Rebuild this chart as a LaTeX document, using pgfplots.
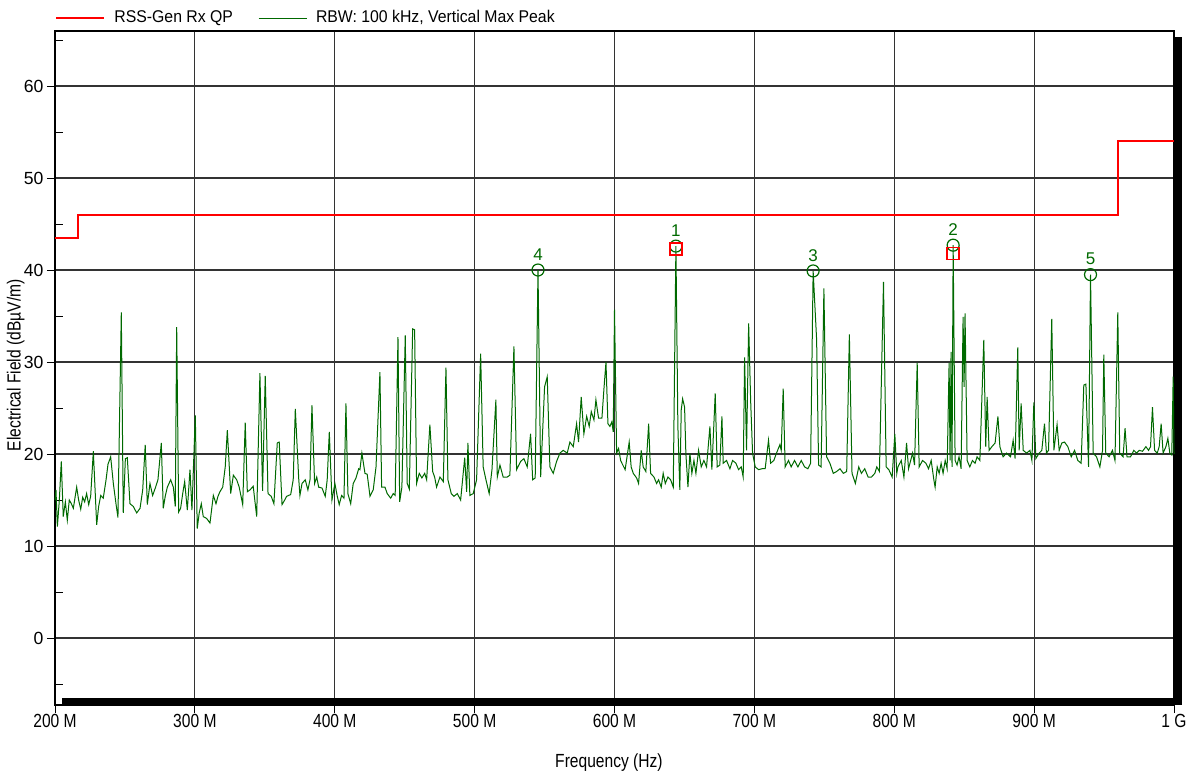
\documentclass[border=0pt]{standalone}
\usepackage{pgfplots}
\pgfplotsset{compat=1.18}
\usepackage{fontspec}
\setmainfont{Liberation Sans}
\newfontfamily\narrowfont[FakeStretch=0.82]{Liberation Sans}
\newfontfamily\legendfont[FakeStretch=0.93]{Liberation Sans}
\definecolor{trace}{RGB}{0,105,0}
\definecolor{limit}{RGB}{255,0,0}

\begin{document}
\begin{tikzpicture}
\begin{axis}[
  scale only axis, width=559.5pt, height=337pt,
  xmin=200, xmax=1000, ymin=-7.28, ymax=65.98,
  clip=false,
  xtick={200,300,...,1000},
  xticklabels={200 M,300 M,400 M,500 M,600 M,700 M,800 M,900 M,1 G},
  ytick={0,10,...,60},
  extra y ticks={-5,5,...,65},
  extra y tick labels={},
  extra y tick style={grid=none, tick align=inside, major tick length=3.8pt},
  xtick pos=bottom, ytick pos=left, tick align=outside, major tick length=4pt,
  tick style={black, line width=0.5pt},
  grid=major, major grid style={black!80, line width=0.6pt},
  axis line style={black, line width=0.6pt},
  /pgf/number format/assume math mode=true,
  yticklabel style={font=\fontsize{8.8}{10}\selectfont, inner xsep=1.6pt},
  xticklabel style={font=\narrowfont\fontsize{9.5}{11}\selectfont, inner ysep=0.5pt},
  xlabel={Frequency (Hz)}, ylabel={Electrical Field (dBµV/m)},
  label style={font=\narrowfont\fontsize{9.5}{11}\selectfont},
  xlabel style={at={(axis description cs:0.495,-0.086)}, anchor=center},
  ylabel style={at={(axis description cs:-0.035,0.504)}, anchor=center},
  legend columns=2,
  legend image code/.code={\draw[#1] (0pt,0pt) -- (24pt,0pt); \path (26.5pt,0pt);},
  legend style={at={(axis description cs:0,1.019)}, anchor=west, draw=none, fill=none,
    inner sep=0pt, font=\legendfont\fontsize{8.5}{10}\selectfont,
    /tikz/every even column/.append style={column sep=10.5pt}},
]

% limit line
\addplot[limit, line width=1pt]
  coordinates {(200,43.5) (216.4,43.5) (216.4,46) (960,46) (960,54) (1000,54)};
\addlegendentry{RSS-Gen Rx QP}

% measured trace
\addplot[trace, line width=0.5pt]
  coordinates {
(200,15.0)(200.7,16.1)(201.7,12.1)(203.1,15.0)(204.5,19.2)(205.9,13.2)(207.4,14.8)(208.8,12.8)
(210.2,15.0)(211.7,14.6)(213.1,14.1)(215.5,16.4)(216.9,15.0)(218.4,14.0)(219.8,15.3)(221.2,14.8)
(222.6,15.7)(224.1,14.5)(225.5,15.4)(227.4,20.3)(229.8,12.3)(231.2,14.3)(232.7,15.5)(234.5,15.2)
(236.5,17.2)(237.9,18.9)(239.8,19.7)(241.7,16.8)(243.6,14.6)(245.0,13.1)(247.4,35.4)(248.8,13.6)
(250.3,19.5)(251.7,19.6)(253.6,14.6)(256.0,14.3)(258.4,13.6)(260.8,14.1)(262.7,16.1)(264.5,21.0)
(266.0,14.5)(267.9,16.8)(269.8,15.5)(271.7,16.3)(273.6,17.2)(276.0,21.2)(277.4,14.1)(278.8,15.4)
(280.3,16.4)(282.7,17.2)(284.6,16.4)(286.0,14.3)(287.0,33.8)(288.4,13.7)(289.8,14.1)(291.3,15.7)
(292.7,17.0)(294.6,13.9)(296.5,18.3)(297.9,13.9)(300.3,24.2)(301.7,11.9)(303.1,13.6)(304.6,14.6)
(306.0,13.2)(308.4,13.0)(310.8,12.5)(313.2,15.5)(315.1,14.6)(316.5,15.4)(317.9,15.9)(319.9,16.4)
(321.7,18.6)(323.2,22.6)(325.6,15.7)(327.5,17.7)(329.9,17.2)(331.7,16.4)(334.2,14.5)(336.0,23.4)
(337.5,15.9)(339.4,16.1)(341.7,16.5)(344.2,13.2)(346.5,28.8)(348.4,16.0)(350.3,28.5)(352.3,15.7)
(354.6,15.4)(356.5,14.6)(358.9,21.2)(360.3,21.3)(362.3,14.5)(364.2,15.0)(365.6,15.4)(368.5,15.6)
(370.3,17.2)(371.8,24.9)(374.2,17.4)(375.1,15.5)(376.6,16.8)(378.9,17.2)(380.8,16.1)(382.3,17.2)
(383.7,25.3)(385.6,16.8)(387.1,17.5)(388.5,16.4)(390.9,16.3)(393.2,15.4)(394.6,17.2)(396.1,22.4)
(398.0,15.0)(400.1,16.8)(401.8,15.4)(403.2,14.5)(404.9,15.5)(406.6,15.2)(408.0,25.5)(409.4,15.7)
(411.4,14.6)(413.2,16.8)(415.2,17.4)(417.1,18.4)(418.0,18.3)(419.4,20.1)(421.6,17.9)(423.2,17.8)
(425.2,15.4)(427.5,16.1)(429.5,18.6)(432.3,28.9)(433.5,16.4)(435.9,16.4)(437.5,15.7)(440.0,15.2)
(441.8,15.7)(443.2,15.5)(445.2,32.7)(446.4,14.8)(448.0,16.4)(450.4,32.9)(451.8,16.8)(453.3,16.2)
(455.7,33.6)(457.1,33.5)(458.5,16.8)(460.4,17.9)(462.3,17.4)(464.3,17.9)(465.7,17.2)(468.0,23.2)
(470.0,18.1)(471.4,17.5)(472.8,16.4)(475.2,17.5)(477.6,17.0)(479.5,29.4)(480.9,17.2)(483.3,15.7)
(485.2,15.4)(487.6,15.7)(490.0,15.0)(492.9,19.6)(494.3,15.9)(495.2,21.2)(496.6,15.5)(499.0,15.7)
(501.4,17.2)(504.3,30.9)(506.1,18.6)(508.1,17.2)(510.4,15.7)(512.4,18.3)(515.2,25.9)(516.2,17.5)
(518.1,18.8)(520.4,17.5)(523.3,17.5)(525.2,17.7)(528.1,31.7)(530.0,18.3)(532.9,19.2)(535.2,19.5)
(537.6,18.6)(540.0,22.2)(541.5,17.2)(543.3,17.4)(545.3,40.0)(547.2,17.5)(550.0,27.3)(551.9,28.4)
(553.8,18.6)(556.2,17.9)(558.6,19.2)(561.0,20.1)(563.3,20.4)(566.2,20.1)(568.1,21.3)(570.5,20.8)
(572.9,23.3)(574.3,21.3)(576.2,26.2)(578.1,22.2)(580.1,24.1)(581.9,23.0)(583.4,24.6)(585.3,23.7)
(586.7,25.9)(588.6,23.9)(591.0,23.9)(592.4,27.0)(593.9,30.0)(595.3,23.3)(596.7,23.0)(598.1,23.5)
(599.1,22.4)(600.0,35.7)(601.5,20.1)(602.9,20.6)(604.4,19.3)(605.3,19.0)(607.6,18.3)(610.5,21.3)
(611.9,18.6)(613.4,17.9)(615.8,17.4)(617.2,16.8)(619.1,20.4)(620.5,18.6)(622.4,18.1)(624.4,23.3)
(625.8,17.9)(628.2,17.5)(630.1,16.8)(631.5,17.2)(633.4,16.4)(634.8,17.9)(636.3,16.8)(638.2,17.5)
(640.1,17.2)(642.0,16.4)(643.9,42.6)(645.3,23.0)(646.7,16.1)(647.7,24.8)(648.7,26.0)(650.1,25.1)
(651.0,20.1)(652.5,16.4)(653.9,20.1)(655.3,17.9)(656.8,19.3)(658.2,17.9)(660.1,20.4)(662.0,18.6)
(663.9,19.3)(665.8,18.6)(668.2,23.0)(669.6,18.3)(672.0,26.6)(673.4,18.6)(675.3,18.8)(676.8,24.1)
(677.7,19.0)(680.1,19.3)(682.5,18.4)(684.4,19.3)(686.8,19.0)(688.7,18.3)(690.6,18.6)(692.0,17.5)
(693.0,30.5)(694.4,20.4)(695.9,34.2)(697.3,25.9)(698.7,20.1)(700.6,18.6)(703.0,18.3)(705.4,18.4)
(707.7,18.4)(710.1,21.5)(711.6,19.0)(713.9,19.3)(715.8,20.1)(718.2,21.0)(719.2,20.4)(720.6,27.1)
(722.0,18.6)(724.4,19.3)(726.3,18.6)(728.7,19.3)(731.1,18.6)(733.5,19.3)(735.9,18.6)(738.2,18.4)
(740.2,19.0)(742.0,39.9)(744.5,32.4)(745.9,18.8)(747.7,18.6)(749.7,38.0)(751.6,19.7)(754.0,19.0)
(756.4,17.9)(758.8,18.1)(761.2,18.4)(763.6,17.9)(766.0,18.1)(767.9,33.0)(769.8,17.9)(772.2,16.8)
(774.6,18.6)(776.5,17.9)(778.9,18.4)(781.3,17.5)(783.7,17.5)(786.1,17.9)(787.5,18.6)(789.4,18.1)
(792.3,38.7)(794.2,18.6)(796.1,18.3)(798.5,17.5)(800.4,22.2)(801.8,17.9)(802.6,18.6)(805.0,19.3)
(806.9,17.5)(808.8,21.2)(810.2,18.4)(813.1,20.1)(814.5,18.8)(816.4,29.9)(817.8,18.6)(820.2,19.3)
(822.6,19.0)(824.5,18.4)(826.4,19.3)(828.3,17.2)(829.2,16.4)(830.7,18.6)(832.1,17.9)(833.5,19.0)
(834.9,17.9)(836.4,19.3)(837.8,18.4)(839.2,29.9)(839.9,19.3)(840.6,31.1)(841.3,18.6)(842.1,42.7)
(843.5,19.3)(844.9,18.8)(846.3,19.7)(847.8,18.4)(849.2,34.9)(849.9,27.3)(850.6,35.3)(852.1,19.3)
(854.0,18.6)(855.9,19.3)(857.8,19.0)(859.2,19.7)(861.2,19.3)(864.0,32.4)(865.4,20.8)(866.4,26.2)
(867.8,20.4)(869.8,20.8)(872.1,21.2)(874.1,24.1)(875.5,20.8)(877.8,19.7)(880.3,20.1)(883.1,19.7)
(885.0,21.5)(886.4,19.5)(888.3,31.6)(889.3,20.4)(890.7,25.5)(892.2,20.4)(894.6,20.1)(897.0,20.4)
(898.4,19.3)(899.8,25.6)(901.2,19.5)(903.6,20.1)(905.5,20.4)(907.4,23.3)(908.8,20.1)(910.3,20.4)
(912.6,34.7)(914.1,20.4)(916.4,23.2)(917.9,20.4)(919.8,21.2)(921.7,21.3)(924.1,20.8)(926.5,19.7)
(928.9,20.4)(931.2,19.3)(933.6,19.0)(935.5,27.5)(937.0,27.6)(938.9,18.6)(940.3,39.5)(942.2,20.1)
(944.6,19.7)(947.0,18.6)(948.9,20.4)(949.8,30.8)(951.2,20.1)(953.6,19.7)(956.0,20.4)(957.8,19.3)
(959.8,35.4)(961.2,20.1)(963.6,19.7)(965.0,22.8)(966.4,19.7)(968.9,19.7)(971.3,20.4)(973.2,20.1)
(975.1,20.4)(977.5,20.3)(979.9,20.8)(981.8,20.4)(983.2,20.8)(984.6,25.1)(986.1,20.4)(988.0,20.1)
(989.4,20.8)(990.8,23.3)(992.2,20.1)(994.2,20.8)(995.6,21.7)(997.0,20.1)(998.4,19.9)(999.4,28.4)
(1000,20.0)
  };
\addlegendentry{RBW: 100 kHz, Vertical Max Peak}

% peak markers
\addplot[trace, only marks, mark=o, mark size=3pt, mark options={line width=0.6pt}, forget plot,
  nodes near coords, point meta=explicit symbolic,
  every node near coord/.append style={text=trace, font=\fontsize{8.5}{10}\selectfont,
    anchor=south, inner sep=0pt, yshift=4.5pt}]
  coordinates {(643.9,42.6) [1] (842.1,42.7) [2] (742.0,39.9) [3] (545.3,40.0) [4] (940.3,39.5) [5]};
\addplot[only marks, mark=square, mark size=3pt, forget plot,
  mark options={draw=limit, fill=none, line width=0.7pt}]
  coordinates {(643.9,42.3) (842.1,41.8)};

% shadowed frame
\fill[black] (rel axis cs:0.0063,0) rectangle (rel axis cs:1.0072,0.0104);
\fill[black] (rel axis cs:1.0009,0) rectangle (rel axis cs:1.0072,0.991);
\end{axis}
\pgfresetboundingbox
\path[use as bounding box] ([xshift=-27.5pt,yshift=-36pt]current axis.south west)
  rectangle ([xshift=10.5pt,yshift=15.5pt]current axis.north east);
\end{tikzpicture}
\end{document}
